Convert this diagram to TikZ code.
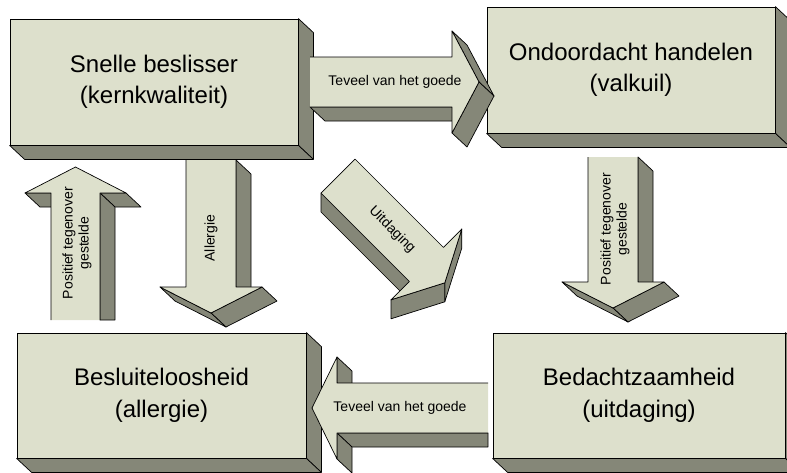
\documentclass[tikz,border=0pt]{standalone}
\usepackage{fontspec}
\setmainfont{Liberation Sans}
\definecolor{facec}{RGB}{221,224,204}
\definecolor{sidec}{RGB}{133,135,120}
\newcommand\boxsides[1]{%
  \draw[sideface] (#1.north east) -- ++(15,14) -- ([shift={(15,14)}]#1.south east) -- (#1.south east) -- cycle;
  \draw[sideface] (#1.south west) -- (#1.south east) -- ++(15,14) -- ([shift={(15,14)}]#1.south west) -- cycle;}
\begin{document}
\begin{tikzpicture}[x=1pt,y=-1pt,
  frontfill/.style={fill=facec},
  edge/.style={draw=black,line width=0.7pt,line join=round},
  sideface/.style={fill=sidec,draw=black,line width=0.7pt,line join=round},
  boxnode/.style={draw=black,fill=facec,line width=0.8pt,inner sep=0pt,align=center,
    font=\fontsize{24}{31.5}\selectfont},
  lbl/.style={inner sep=0pt,align=center,font=\fontsize{14}{16}\selectfont}]
\useasboundingbox (0,0) rectangle (787,472);

% ---- boxes
\node[boxnode,minimum width=288pt,minimum height=126pt] (b1) at (154,82) {Snelle beslisser\\(kernkwaliteit)};
\boxsides{b1}
\node[boxnode,minimum width=288pt,minimum height=126pt] (b2) at (631,70) {Ondoordacht handelen\\(valkuil)};
\boxsides{b2}
\node[boxnode,minimum width=289pt,minimum height=125pt] (b3) at (161.5,395.5) {Besluiteloosheid\\(allergie)};
\boxsides{b3}
\node[boxnode,minimum width=292pt,minimum height=125pt] (b4) at (639,395.5) {Bedachtzaamheid\\(uitdaging)};
\boxsides{b4}

% ---- top arrow (right)
\draw[sideface] (452,107) -- (310,107) -- (325,121) -- (467,121) -- cycle;
\draw[sideface] (452,31) -- (479,82) -- (494,96) -- (467,45) -- cycle;
\draw[sideface] (479,82) -- (452,133) -- (467,147) -- (494,96) -- cycle;
\fill[frontfill] (310,57) -- (452,57) -- (452,31) -- (479,82) -- (452,133) -- (452,107) -- (310,107) -- cycle;
\draw[edge] (310,57) -- (452,57) -- (452,31) -- (479,82) -- (452,133) -- (452,107) -- (310,107);
\node[lbl] (lt) at (395,82) {Teveel van het goede};

% ---- bottom arrow (left)
\draw[sideface] (337,383) -- (337,357) -- (352,371) -- (352,397) -- cycle;
\draw[sideface] (337,433) -- (488,433) -- (488,447) -- (352,447) -- cycle;
\draw[sideface] (337,459) -- (337,433) -- (352,447) -- (352,473) -- cycle;
\fill[frontfill] (488,383) -- (337,383) -- (337,357) -- (312,408) -- (337,459) -- (337,433) -- (488,433) -- cycle;
\draw[edge] (488,383) -- (337,383) -- (337,357) -- (312,408) -- (337,459) -- (337,433) -- (488,433);
\node[lbl] (lb) at (400,408) {Teveel van het goede};

% ---- left arrow (up)
\draw[sideface] (51,193) -- (25,193) -- (40,207) -- (66,207) -- cycle;
\draw[sideface] (126,193) -- (100,193) -- (115,207) -- (141,207) -- cycle;
\draw[sideface] (100,193) -- (100,320) -- (115,320) -- (115,207) -- cycle;
\fill[frontfill] (51,320) -- (51,193) -- (25,193) -- (75.5,167) -- (126,193) -- (100,193) -- (100,320) -- cycle;
\draw[edge] (51,320) -- (51,193) -- (25,193) -- (75.5,167) -- (126,193) -- (100,193) -- (100,320);
\node[lbl,rotate=90] (ll) at (77,243) {Positief tegenover\\gestelde};

% ---- allergie arrow (down)
\draw[sideface] (236,160) -- (236,287) -- (251,301) -- (251,174) -- cycle;
\draw[sideface] (262,287) -- (211,313) -- (226,327) -- (277,301) -- cycle;
\draw[sideface] (211,313) -- (160,287) -- (175,301) -- (226,327) -- cycle;
\fill[frontfill] (186,160) -- (186,287) -- (160,287) -- (211,313) -- (262,287) -- (236,287) -- (236,160) -- cycle;
\draw[edge] (186,160) -- (186,287) -- (160,287) -- (211,313) -- (262,287) -- (236,287) -- (236,160);
\node[lbl,rotate=90] (la) at (211,238) {Allergie};

% ---- right arrow (down)
\draw[sideface] (638,157) -- (638,282) -- (653,296) -- (653,171) -- cycle;
\draw[sideface] (664,282) -- (613,308) -- (628,322) -- (679,296) -- cycle;
\draw[sideface] (613,308) -- (562,282) -- (577,296) -- (628,322) -- cycle;
\fill[frontfill] (588,157) -- (588,282) -- (562,282) -- (613,308) -- (664,282) -- (638,282) -- (638,157) -- cycle;
\draw[edge] (588,157) -- (588,282) -- (562,282) -- (613,308) -- (664,282) -- (638,282) -- (638,157);
\node[lbl,rotate=90] (lr) at (615,229) {Positief tegenover\\gestelde};

% ---- diagonal arrow
\draw[sideface] (409.4,281.4) -- (321,193) -- (321,212) -- (409.4,300.4) -- cycle;
\draw[sideface] (461.8,229) -- (444.8,282.8) -- (444.8,301.8) -- (461.8,248) -- cycle;
\draw[sideface] (444.8,282.8) -- (391,299.8) -- (391,318.8) -- (444.8,301.8) -- cycle;
\draw[frontfill,edge] (355,159) -- (443.4,247.4) -- (461.8,229) -- (444.8,282.8) -- (391,299.8) -- (409.4,281.4) -- (321,193) -- cycle;
\node[lbl,rotate=-45] (lu) at (392,230) {Uitdaging};
\end{tikzpicture}
\end{document}
